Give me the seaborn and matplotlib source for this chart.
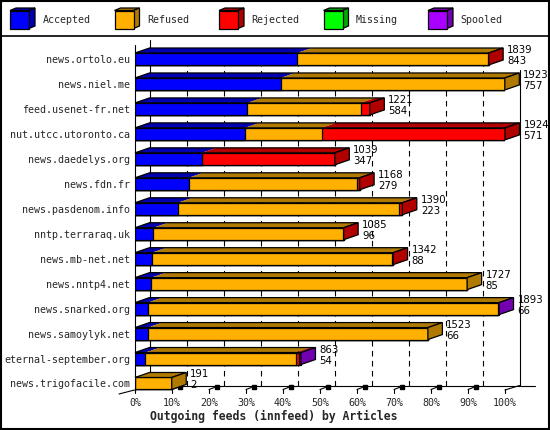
import numpy as np
import pandas as pd
import matplotlib
matplotlib.use("Agg")
import matplotlib.pyplot as plt
import seaborn as sns
from matplotlib.patches import Polygon, Rectangle

# ---------------- data ----------------
names = ["news.ortolo.eu", "news.niel.me", "feed.usenet-fr.net", "nut.utcc.utoronto.ca",
         "news.daedelys.org", "news.fdn.fr", "news.pasdenom.info", "nntp.terraraq.uk",
         "news.mb-net.net", "news.nntp4.net", "news.snarked.org", "news.samoylyk.net",
         "eternal-september.org", "news.trigofacile.com"]
accepted = [843, 757, 584, 571, 347, 279, 223, 96, 88, 85, 66, 66, 54, 2]
refused = [990, 1166, 590, 400, 0, 876, 1150, 984, 1249, 1642, 1822, 1457, 781, 189]
rejected = [6, 0, 47, 953, 692, 13, 17, 5, 5, 0, 0, 0, 18, 0]
missing = [0, 0, 0, 0, 0, 0, 0, 0, 0, 0, 0, 0, 0, 0]
spooled = [0, 0, 0, 0, 0, 0, 0, 0, 0, 0, 5, 0, 10, 0]
series_names = ["Accepted", "Refused", "Rejected", "Missing", "Spooled"]
xtick_labels = ["0%", "10%", "20%", "30%", "40%", "50%", "60%", "70%", "80%", "90%", "100%"]
xlabel_text = "Outgoing feeds (innfeed) by Articles"

front_colors = ["#0000FF", "#FFB000", "#FF0000", "#00FF00", "#AA00FF"]
dark_colors = ["#0000B0", "#B07A00", "#B00000", "#00A800", "#7200B0"]

# ---------------- setup ----------------
sns.set_theme(style="white")
plt.rcParams["font.family"] = ["DejaVu Sans Mono", "DejaVu Sans"]

W, H = 550, 430
fig = plt.figure(figsize=(5.5, 4.3), dpi=100)
fig.patch.set_facecolor("white")

X0, X1 = 135.0, 505.0          # 0% / 100% front plane (px)
ROW0, PITCH = 59.0, 24.96      # first row centre, row pitch (px)
n = len(names)
top_px = ROW0 - PITCH / 2
bot_px = ROW0 + PITCH * (n - 0.5)
ax = fig.add_axes([X0 / W, 1 - bot_px / H, (X1 - X0) / W, (bot_px - top_px) / H])
ax.patch.set_alpha(0)

PXX = (X1 - X0) / 100.0        # px per percent


def xd(px):
    return (px - X0) / PXX


def yd(py):
    return (py - ROW0) / PITCH


DX = 14.5 / PXX                # depth in percent
DY = 5.0 / PITCH               # depth in rows
BH = 0.48                      # bar height (rows)
LW = 0.9

segs = np.array([accepted, refused, rejected, missing, spooled], dtype=float)
totals = segs.sum(axis=0)
scale = 100.0 / totals.max()
cum = np.cumsum(segs, axis=0) * scale
starts = np.vstack([np.zeros(n), cum[:-1]])

# ---------- back structure (behind bars) ----------
gl_kw = dict(color="black", lw=0.8, clip_on=False, zorder=1)
for k in range(1, 10):
    ax.plot([10 * k + DX] * 2, [yd(385.5), yd(46)], ls=(0, (5, 4)), **gl_kw)
ax.plot([xd(149.5)] * 2, [yd(40), yd(385.5)], **gl_kw)
ax.plot([xd(519.5)] * 2, [yd(70), yd(385.5)], **gl_kw)
ax.plot([xd(134.5)] * 2, [yd(45), yd(390.5)], **gl_kw)
ax.plot([xd(149.5), xd(535)], [yd(385.5)] * 2, **gl_kw)
ax.plot([xd(119), xd(134.5)], [yd(394), yd(390)], **gl_kw)
ax.plot([xd(505), xd(519.5)], [yd(390), yd(385.5)], **gl_kw)
for k in range(0, 11):
    xp = X0 + 37 * k
    ax.plot([xd(xp)] * 2, [yd(389), yd(393)], **gl_kw)
    if 0 < k < 10:
        ax.plot([xd(xp), xd(xp + 4), xd(xp + 7)], [yd(389.5), yd(388), yd(386.5)], **gl_kw)
        ax.plot([xd(xp + 7.5)], [yd(386.5)], marker="s", ms=2.2, color="black",
                clip_on=False, zorder=1)

# ---------- front faces via seaborn ----------
for k in range(4, -1, -1):
    sns.barplot(x=cum[k], y=names, orient="y", color=front_colors[k], saturation=1,
                width=BH, edgecolor="black", linewidth=LW, errorbar=None, ax=ax, zorder=3)

# ---------- top & side faces ----------
for i in range(n):
    yt = i - BH / 2
    yb = i + BH / 2
    L = cum[-1, i]
    last = 0
    for k in range(5):
        if segs[k, i] <= 0:
            continue
        last = k
        x0, x1 = starts[k, i], cum[k, i]
        ax.add_patch(Polygon([(x0, yt), (x1, yt), (x1 + DX, yt - DY), (x0 + DX, yt - DY)],
                             closed=True, fc=dark_colors[k], ec="none", zorder=3, clip_on=False))
    ax.add_patch(Polygon([(0, yt), (L, yt), (L + DX, yt - DY), (DX, yt - DY)],
                         closed=True, fill=False, ec="black", lw=LW, zorder=4, clip_on=False))
    ax.add_patch(Polygon([(L, yt), (L + DX, yt - DY), (L + DX, yb - DY), (L, yb)],
                         closed=True, fc=dark_colors[last], ec="black", lw=LW, zorder=4,
                         clip_on=False))
    tx = L + DX + 4.0 / PXX
    ax.text(tx, i - 0.36, f"{int(totals[i])}", ha="left", va="center", fontsize=7.3,
            family=["DejaVu Sans"], color="black", zorder=5, clip_on=False)
    ax.text(tx, i + 0.08, f"{int(accepted[i])}", ha="left", va="center", fontsize=7.3,
            family=["DejaVu Sans"], color="black", zorder=5, clip_on=False)

ax.set_xlim(0, 100)
ax.set_ylim(n - 0.5, -0.5)
ax.set_xticks(np.arange(0, 101, 10))
ax.set_xticklabels(xtick_labels, fontsize=7.2, family=["DejaVu Sans Mono"])
ax.tick_params(axis="x", length=0, pad=1.5)
ax.tick_params(axis="y", length=0, pad=3.6, labelsize=7.2)
for lab in ax.get_yticklabels():
    lab.set_family(["DejaVu Sans Mono"])
ax.set_xlabel("")
ax.set_ylabel("")
for s in ax.spines.values():
    s.set_visible(False)

# ---------- overlay: frame, legend, axis title ----------
ov = fig.add_axes([0, 0, 1, 1])
ov.set_xlim(0, W)
ov.set_ylim(H, 0)
ov.axis("off")
ov.patch.set_alpha(0)
ov.add_patch(Rectangle((1, 1), W - 2.2, H - 2.2, fill=False, ec="black", lw=1.5))
ov.plot([0, W], [35.5, 35.5], color="black", lw=1.2)

for j, name in enumerate(series_names):
    bx = 10 + 104.5 * j
    by, bw, bh, d, e = 10.5, 19, 18, 6, 2.5
    ov.add_patch(Polygon([(bx, by), (bx + bw, by), (bx + bw + d, by - e), (bx + d, by - e)],
                         closed=True, fc=dark_colors[j], ec="black", lw=LW))
    ov.add_patch(Polygon([(bx + bw, by), (bx + bw + d, by - e), (bx + bw + d, by + bh - e),
                          (bx + bw, by + bh)], closed=True, fc=dark_colors[j], ec="black", lw=LW))
    ov.add_patch(Rectangle((bx, by), bw, bh, fc=front_colors[j], ec="black", lw=LW))
    ov.text(bx + 32.5, 20, name, ha="left", va="center", fontsize=7.2,
            family=["DejaVu Sans Mono"])

ov.text(274, 416.5, xlabel_text, ha="center", va="center", fontsize=8.3,
        fontweight="bold", family=["DejaVu Sans Mono"])

fig.savefig("out.png", dpi=100, facecolor="white")
